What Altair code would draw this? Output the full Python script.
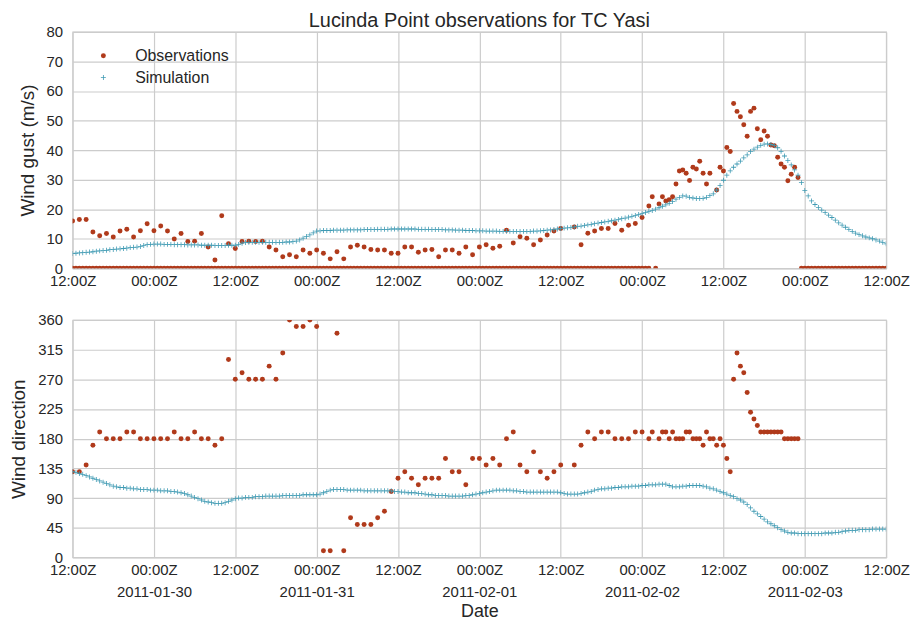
import altair as alt
import numpy as np
import pandas as pd

START = pd.Timestamp("2011-01-29T12:00:00Z")
TITLE = "Lucinda Point observations for TC Yasi"
SERIES = ["Observations", "Simulation"]
COLORS = ["#b03a1b", "#3f9ab3"]
FONT = "Liberation Sans"
TEXT = "#262626"
PLUS = ("M-1,-0.16L-0.16,-0.16L-0.16,-1L0.16,-1L0.16,-0.16L1,-0.16L1,0.16"
        "L0.16,0.16L0.16,1L-0.16,1L-0.16,0.16L-1,0.16Z")

# x ticks (hours after 2011-01-29 12:00Z)
x_tick_hours = [0, 12, 24, 36, 48, 60, 72, 84, 96, 108, 120]
gust_ticks = [0, 10, 20, 30, 40, 50, 60, 70, 80]
dir_ticks = [0, 45, 90, 135, 180, 225, 270, 315, 360]

# Observations, hourly from 2011-01-29 12:00Z (hour 0) to hour 83
obs_gust_hourly = [
    16.0, 16.5, 16.5, 12.3, 11.0, 11.8, 10.6, 12.6, 13.2, 10.6,
    12.7, 15.1, 12.7, 14.3, 12.6, 9.9, 11.8, 9.1, 9.2, 11.8,
    7.2, 2.8, 17.8, 8.3, 6.7, 9.1, 9.2, 9.1, 9.2, 7.2,
    6.2, 3.9, 4.6, 3.9, 6.2, 5.1, 6.2, 5.1, 3.2, 5.6,
    3.2, 7.2, 7.8, 7.2, 6.4, 6.2, 6.2, 5.1, 5.1, 7.2,
    7.2, 5.4, 6.2, 6.4, 3.9, 6.2, 6.2, 5.1, 7.2, 4.6,
    7.2, 8.0, 6.8, 7.5, 12.9, 8.6, 10.7, 10.2, 8.0, 9.6,
    11.3, 12.6, 13.5, None, 14.0, 8.0, 11.9, 12.6, 13.5, 13.5,
    15.2, 12.9, 14.6, 15.2]
obs_dir_hourly = [
    130, 130, 140, 170, 190, 180, 180, 180, 190, 190,
    180, 180, 180, 180, 180, 190, 180, 180, 190, 180,
    180, 170, 180, 300, 270, 280, 270, 270, 270, 290,
    270, 310, 360, 350, 350, 360, 350, 10, 10, 340,
    10, 60, 50, 50, 50, 60, 70, 100, 120, 130,
    120, 110, 120, 120, 120, 150, 130, 130, 110, 150,
    150, 140, 150, 140, 180, 190, 140, 130, 160, 130,
    120, 130, 140, None, 140, 170, 190, 180, 190, 190,
    180, 180, 180, 190]

# Observations during the storm (half-hourly)
storm_hours = [84, 85, 85.5, 86.5, 87, 87.5, 88, 88.5, 89, 89.5,
               90, 90.5, 91, 91.5, 92, 92.5, 93, 93.5, 94, 94.5,
               95, 95.5, 96, 96.5, 97, 97.5, 98, 98.5, 99, 99.5,
               100, 100.5, 101, 101.5, 102, 102.5, 103, 103.5, 104, 104.5,
               105, 105.5, 106, 106.5, 107]
storm_gust = [17.2, 21.1, 24.2, 21.8, 24.2, 22.8, 23.2, 24.2, 28.5, 32.9,
              33.3, 32.2, 29.7, 34.2, 33.6, 36.2, 32.2, 28.5, 32.2, None,
              26.5, 34.2, 32.9, 40.9, 39.5, 55.8, 53.1, 51.3, 48.6, 44.7,
              53.1, 54.2, 47.2, 43.5, 46.5, 44.7, 41.7, 41.5, 37.6, 35.3,
              34.2, 29.6, 31.8, 34.2, 30.7]
storm_dir = [190, 180, 190, 180, 190, 190, 180, 190, 180, 180,
             180, 190, 190, 180, 180, 180, 170, 190, 180, 180,
             170, 180, 170, 150, 130, 270, 310, 290, 280, 250,
             220, 210, 200, 190, 190, 190, 190, 190, 190, 190,
             180, 180, 180, 180, 180]

# Half-hourly gust readings of 0 m/s (start hour, end hour)
zero_gust_spans = [(0, 85), (86, 86), (107.5, 120)]

# Simulation, half-hourly from hour 0 to hour 120
sim_gust = [
    5.0, 5.1, 5.2, 5.3, 5.4, 5.5, 5.6, 5.8, 5.9, 6.0, 6.1, 6.3, 6.4, 6.5, 6.6, 6.7, 6.8, 7.0, 7.1, 7.2,
    7.4, 7.7, 8.0, 8.1, 8.2, 8.2, 8.2, 8.1, 8.1, 8.1, 8.0, 8.0, 8.0, 8.0, 7.9, 7.9, 7.9, 7.9, 7.8, 7.8,
    7.8, 7.8, 7.7, 7.7, 7.7, 7.7, 7.8, 7.8, 7.8, 8.1, 8.5, 8.7, 8.8, 8.8, 8.8, 8.8, 8.8, 8.8, 8.8, 8.8,
    8.8, 8.8, 8.8, 8.9, 8.9, 9.0, 9.2, 9.6, 10.2, 10.8, 11.3, 12.0, 12.6, 12.7, 12.8, 12.8, 12.8, 12.9, 12.9, 12.9,
    12.9, 13.0, 13.0, 13.0, 13.0, 13.0, 13.1, 13.1, 13.1, 13.1, 13.2, 13.2, 13.2, 13.2, 13.3, 13.3, 13.3, 13.3, 13.3, 13.3,
    13.3, 13.3, 13.2, 13.2, 13.2, 13.2, 13.1, 13.1, 13.1, 13.1, 13.0, 13.0, 13.0, 12.9, 12.9, 12.9, 12.8, 12.8, 12.8, 12.7,
    12.7, 12.7, 12.6, 12.6, 12.6, 12.6, 12.5, 12.5, 12.5, 12.5, 12.5, 12.5, 12.5, 12.5, 12.5, 12.5, 12.6, 12.6, 12.7, 12.8,
    12.9, 13.0, 13.1, 13.3, 13.5, 13.6, 13.7, 13.8, 14.0, 14.2, 14.3, 14.5, 14.7, 14.9, 15.1, 15.3, 15.5, 15.7, 15.9, 16.1,
    16.3, 16.5, 16.8, 17.0, 17.3, 17.6, 17.9, 18.2, 18.5, 18.9, 19.3, 19.6, 20.0, 20.5, 21.0, 21.5, 22.0, 22.6, 23.4, 24.0,
    24.5, 24.4, 24.0, 23.8, 23.6, 23.6, 23.7, 24.0, 24.6, 25.2, 26.5, 28.0, 29.8, 31.5, 33.0, 34.2, 35.3, 36.3, 37.4, 38.4,
    39.5, 40.3, 41.0, 41.6, 42.0, 42.1, 41.9, 41.6, 40.8, 39.6, 38.0, 36.5, 35.0, 33.3, 31.5, 29.0, 26.3, 24.5, 22.8, 21.6,
    20.6, 19.7, 18.9, 18.0, 17.2, 16.3, 15.4, 14.6, 13.9, 13.2, 12.5, 11.9, 11.4, 11.0, 10.6, 10.3, 10.0, 9.6, 9.2, 8.8,
    8.3]
sim_dir = [
    130, 129, 127, 126, 124, 122, 120, 118, 116, 114, 112, 110, 108, 107, 106, 106, 105, 105, 104, 104,
    103, 103, 103, 102, 102, 102, 101, 101, 101, 100, 100, 99, 98, 97, 95, 93, 91, 89, 87, 85,
    84, 83, 82, 82, 82, 83, 85, 87, 89, 90, 90, 91, 91, 91, 92, 92, 92, 93, 93, 93,
    93, 93, 94, 94, 94, 94, 94, 94, 95, 95, 95, 95, 95, 96, 98, 100, 102, 103, 103, 103,
    103, 102, 102, 102, 102, 102, 101, 101, 101, 101, 101, 101, 101, 101, 101, 100, 100, 99, 99, 98,
    98, 98, 97, 97, 96, 95, 95, 94, 94, 94, 94, 93, 93, 93, 93, 93, 94, 94, 95, 96,
    97, 98, 99, 100, 101, 102, 102, 102, 102, 102, 101, 101, 100, 100, 99, 99, 99, 99, 99, 99,
    99, 99, 99, 99, 98, 97, 96, 96, 96, 96, 97, 98, 99, 100, 102, 103, 104, 104, 105, 105,
    106, 106, 107, 107, 107, 108, 108, 108, 109, 109, 110, 110, 110, 111, 111, 111, 109, 107, 107, 107,
    108, 108, 109, 109, 109, 109, 108, 107, 105, 104, 102, 100, 98, 96, 94, 92, 89, 87, 84, 80,
    75, 70, 66, 62, 58, 54, 51, 48, 45, 42, 40, 38, 37, 37, 36, 36, 36, 36, 36, 36,
    36, 36, 37, 37, 37, 38, 38, 39, 40, 41, 41, 41, 42, 42, 42, 42, 43, 43, 43, 43,
    43]


def ts(h):
    return (START + pd.to_timedelta(h, unit="h")).strftime("%Y-%m-%dT%H:%M:%SZ")


def ms(h):
    return int((START + pd.to_timedelta(h, unit="h")).timestamp() * 1000)


top_rows, bot_rows = [], []
for h, (g, d) in enumerate(zip(obs_gust_hourly, obs_dir_hourly)):
    if g is not None:
        top_rows.append({"time": ts(h), "value": g, "series": "Observations"})
    if d is not None:
        bot_rows.append({"time": ts(h), "value": d, "series": "Observations"})
for h, g, d in zip(storm_hours, storm_gust, storm_dir):
    if g is not None:
        top_rows.append({"time": ts(h), "value": g, "series": "Observations"})
    if d is not None:
        bot_rows.append({"time": ts(h), "value": d, "series": "Observations"})
for a, b in zero_gust_spans:
    for h in np.arange(a, b + 0.25, 0.5):
        top_rows.append({"time": ts(float(h)), "value": 0.0, "series": "Observations"})
for k, (g, d) in enumerate(zip(sim_gust, sim_dir)):
    top_rows.append({"time": ts(k * 0.5), "value": g, "series": "Simulation"})
    bot_rows.append({"time": ts(k * 0.5), "value": d, "series": "Simulation"})

top_df = pd.DataFrame(top_rows)
bot_df = pd.DataFrame(bot_rows)

x_values = [ms(h) for h in x_tick_hours]
x_scale = alt.Scale(type="utc", domain=[ms(x_tick_hours[0]), ms(x_tick_hours[-1])], nice=False)

legend = alt.Legend(title=None, orient="none", legendX=23, legendY=16,
                    labelFontSize=16, labelFont=FONT, labelColor=TEXT,
                    symbolSize=25, rowPadding=6, labelOffset=24, padding=0,
                    symbolStrokeWidth=0)


def panel(df, ytitle, ydomain, yticks, xaxis, show_legend):
    lg = legend if show_legend else None
    return alt.Chart(df).mark_point(filled=True, size=25, opacity=1, clip=True, strokeWidth=0).encode(
        x=alt.X("time:T", scale=x_scale, axis=xaxis),
        y=alt.Y("value:Q", scale=alt.Scale(domain=ydomain, nice=False),
                axis=alt.Axis(values=yticks, title=ytitle, labelPadding=10, titlePadding=9)),
        color=alt.Color("series:N", scale=alt.Scale(domain=SERIES, range=COLORS), legend=lg),
        shape=alt.Shape("series:N", scale=alt.Scale(domain=SERIES, range=["circle", PLUS]), legend=lg),
    )


top_axis = alt.Axis(values=x_values, title=None, labelExpr="utcFormat(datum.value, '%H:%MZ')",
                    labelPadding=5, labelFlush=False, labelOverlap=False)
bot_axis = alt.Axis(values=x_values, title="Date",
                    labelExpr="utchours(datum.value) == 0 ? [utcFormat(datum.value, '%H:%MZ'), utcFormat(datum.value, '%Y-%m-%d')] : utcFormat(datum.value, '%H:%MZ')",
                    labelPadding=5, labelFlush=False, labelOverlap=False, labelLineHeight=22,
                    titlePadding=4, titleFontSize=18)

top = panel(top_df, "Wind gust (m/s)", [0, 80], gust_ticks, top_axis, True).properties(
    width=819, height=238,
    title=alt.TitleParams(TITLE, fontSize=20, fontWeight="normal", font=FONT, color=TEXT,
                          anchor="middle", frame="group", offset=-6))
bottom = panel(bot_df, "Wind direction", [0, 360], dir_ticks, bot_axis, False).properties(
    width=819, height=239)

chart = alt.vconcat(top, bottom, spacing=23).resolve_scale(
    color="independent", shape="independent"
).properties(
    padding={"left": 1, "top": 0, "right": 0, "bottom": 0},
    background="white"
).configure_view(
    stroke="#cccccc", strokeWidth=1.2
).configure_axis(
    domain=False, ticks=False, grid=True, gridColor="#cccccc", gridWidth=1.2,
    labelFont=FONT, labelFontSize=15, labelColor=TEXT,
    titleFont=FONT, titleFontSize=19, titleFontWeight="normal", titleColor=TEXT,
)

chart.save("out.html", embed_options={"renderer": "svg", "actions": False})
